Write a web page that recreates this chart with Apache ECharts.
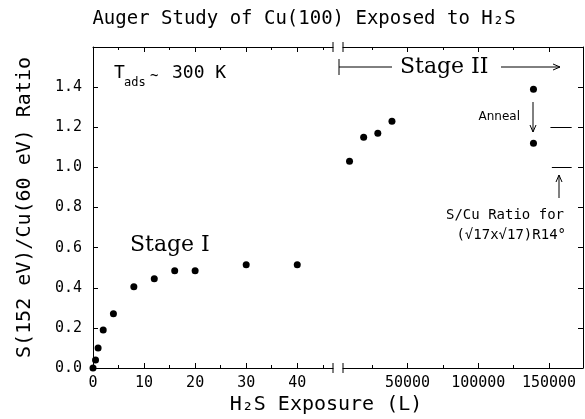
<!DOCTYPE html>
<html>
<head>
<meta charset="UTF-8">
<title>Auger Study of Cu(100) Exposed to H2S</title>
<style>
  html, body { margin: 0; padding: 0; background: #fff; }
  #chart { width: 585px; height: 419px; }
</style>
</head>
<body>
<div id="chart"></div>
<script src="https://cdn.jsdelivr.net/npm/echarts@6/dist/echarts.min.js"></script>
<script>
// Stage I - low exposures (L) and S/Cu ratio
var lowExposure = [0, 0.5, 1, 2, 4, 8, 12, 16, 20, 30, 40];
var lowRatio = [0.0, 0.04, 0.10, 0.19, 0.27, 0.405, 0.445, 0.485, 0.485, 0.515, 0.515];

// Stage II - high exposures (L)
var highExposure = [9000, 19000, 29000, 39000, 139000, 139000];
var highRatio = [1.03, 1.15, 1.17, 1.23, 1.39, 1.12];

// short reference levels at the right edge
var refLevel = [1.2, 1.0];
var refFrom = [151000, 152000];
var refTo = [166000, 166000];

// axis ranges and ticks
var lowRange = [0, 47];
var highRange = [4400, 174000];
var ratioRange = [0, 1.6];
var lowMajor = [0, 10, 20, 30, 40];
var lowMinor = [5, 15, 25, 35, 45];
var highMajor = [50000, 100000, 150000];
var highMinor = [25000, 75000, 125000];
var ratioLabels = [0, 0.2, 0.4, 0.6, 0.8, 1.0, 1.2, 1.4];

var INK = '#000';
var MONO = 'DejaVu Sans Mono';

var chart = echarts.init(document.getElementById('chart'));

function pairs(xs, ys) {
  return xs.map(function (x, i) { return [x, ys[i]]; });
}

// bottom + top axes for one grid, major and minor ticks on separate axes
function xAxesFor(grid, range, major, minor) {
  var list = [];
  ['bottom', 'top'].forEach(function (pos) {
    list.push({
      gridIndex: grid, type: 'value', position: pos,
      min: range[0], max: range[1],
      axisLine: { show: true, onZero: false, lineStyle: { color: INK, width: 1 } },
      axisTick: { show: true, inside: true, length: 5, customValues: major, lineStyle: { color: INK } },
      axisLabel: pos === 'bottom'
        ? { show: true, customValues: major, margin: 8, color: INK, fontFamily: MONO, fontSize: 15,
            formatter: function (v) { return String(v); } }
        : { show: false },
      splitLine: { show: false }
    });
    list.push({
      gridIndex: grid, type: 'value', position: pos,
      min: range[0], max: range[1],
      axisLine: { show: false, onZero: false },
      axisTick: { show: true, inside: true, length: 3, customValues: minor, lineStyle: { color: INK } },
      axisLabel: { show: false },
      splitLine: { show: false }
    });
  });
  return list;
}

var xAxes = xAxesFor(0, lowRange, lowMajor, lowMinor)
  .concat(xAxesFor(1, highRange, highMajor, highMinor));

var yAxes = [{
  gridIndex: 0, type: 'value', position: 'left',
  min: ratioRange[0], max: ratioRange[1], interval: 0.2,
  name: 'S(152 eV)/Cu(60 eV) Ratio', nameLocation: 'middle', nameGap: 58,
  nameTextStyle: { color: INK, fontFamily: MONO, fontSize: 20 },
  axisLine: { show: true, onZero: false, lineStyle: { color: INK, width: 1 } },
  axisTick: { show: true, inside: true, length: 5, lineStyle: { color: INK } },
  axisLabel: {
    customValues: ratioLabels, margin: 11, color: INK, fontFamily: MONO, fontSize: 15,
    formatter: function (v) { return v.toFixed(1); }
  },
  splitLine: { show: false }
}, {
  gridIndex: 1, type: 'value', position: 'right',
  min: ratioRange[0], max: ratioRange[1], interval: 0.2,
  axisLine: { show: true, onZero: false, lineStyle: { color: INK, width: 1 } },
  axisTick: { show: true, inside: true, length: 5, lineStyle: { color: INK } },
  axisLabel: { show: false },
  splitLine: { show: false }
}];

var refLines = refLevel.map(function (v, i) {
  return [{ coord: [refFrom[i], v] }, { coord: [refTo[i], v] }];
});

// axis break marks and annotations
function seg(x1, y1, x2, y2) {
  return { type: 'line', shape: { x1: x1, y1: y1, x2: x2, y2: y2 },
    style: { stroke: INK, lineWidth: 1 }, silent: true };
}
function txt(x, y, s, size, fam, align, valign) {
  return { type: 'text', x: x, y: y, silent: true,
    style: { text: s, fontSize: size, fontFamily: fam, fill: INK,
      align: align, verticalAlign: valign, textAlign: align, textVerticalAlign: valign } };
}
function arrowHead(x, y, dir) {
  var pts;
  if (dir === 'right') pts = [[x - 7, y - 3], [x, y], [x - 7, y + 3]];
  if (dir === 'down') pts = [[x - 3, y - 7], [x, y], [x + 3, y - 7]];
  if (dir === 'up') pts = [[x - 3, y + 7], [x, y], [x + 3, y + 7]];
  return { type: 'polyline', shape: { points: pts }, style: { stroke: INK, fill: null, lineWidth: 1 }, silent: true };
}

var graphics = [
  txt(304, 19, 'Auger Study of Cu(100) Exposed to H₂S', 19, MONO, 'center', 'middle'),
  txt(326, 405, 'H₂S Exposure (L)', 20, MONO, 'center', 'middle'),
  // break marks
  seg(333, 363, 333, 373), seg(343, 363, 343, 373),
  seg(333, 42, 333, 52), seg(343, 42, 343, 52),
  // T_ads ~ 300 K
  txt(114, 73, 'T', 18, MONO, 'left', 'middle'),
  txt(124, 83, 'ads', 12, MONO, 'left', 'middle'),
  txt(150, 76, '~', 14, MONO, 'left', 'middle'),
  txt(172, 73, '300 K', 18, MONO, 'left', 'middle'),
  // Stage labels
  txt(130, 245, 'Stage I', 22, 'DejaVu Serif', 'left', 'middle'),
  seg(339, 59, 339, 75), seg(339, 67, 392, 67),
  txt(400, 67, 'Stage II', 22, 'DejaVu Serif', 'left', 'middle'),
  seg(501, 67, 560, 67), arrowHead(560, 67, 'right'),
  // anneal arrow
  txt(520, 117, 'Anneal', 12, 'DejaVu Sans', 'right', 'middle'),
  seg(533, 102, 533, 132), arrowHead(533, 132, 'down'),
  // reference note
  seg(559, 198, 559, 175), arrowHead(559, 175, 'up'),
  txt(564, 215, 'S/Cu Ratio for', 14, MONO, 'right', 'middle'),
  txt(566, 235, '(√17x√17)R14°', 14, MONO, 'right', 'middle')
];

var option = {
  animation: false,
  backgroundColor: '#fff',
  grid: [
    { left: 93, top: 47, width: 240, height: 321 },
    { left: 343, top: 47, width: 240, height: 321 }
  ],
  xAxis: xAxes,
  yAxis: yAxes,
  series: [{
    type: 'scatter', xAxisIndex: 0, yAxisIndex: 0, clip: false,
    symbolSize: 7, itemStyle: { color: INK, opacity: 1 },
    data: pairs(lowExposure, lowRatio)
  }, {
    type: 'scatter', xAxisIndex: 4, yAxisIndex: 1, clip: false,
    symbolSize: 7, itemStyle: { color: INK, opacity: 1 },
    data: pairs(highExposure, highRatio),
    markLine: {
      silent: true, symbol: 'none', label: { show: false },
      lineStyle: { color: INK, width: 1, type: 'solid' },
      data: refLines
    }
  }],
  graphic: graphics
};

chart.setOption(option);
</script>
</body>
</html>
